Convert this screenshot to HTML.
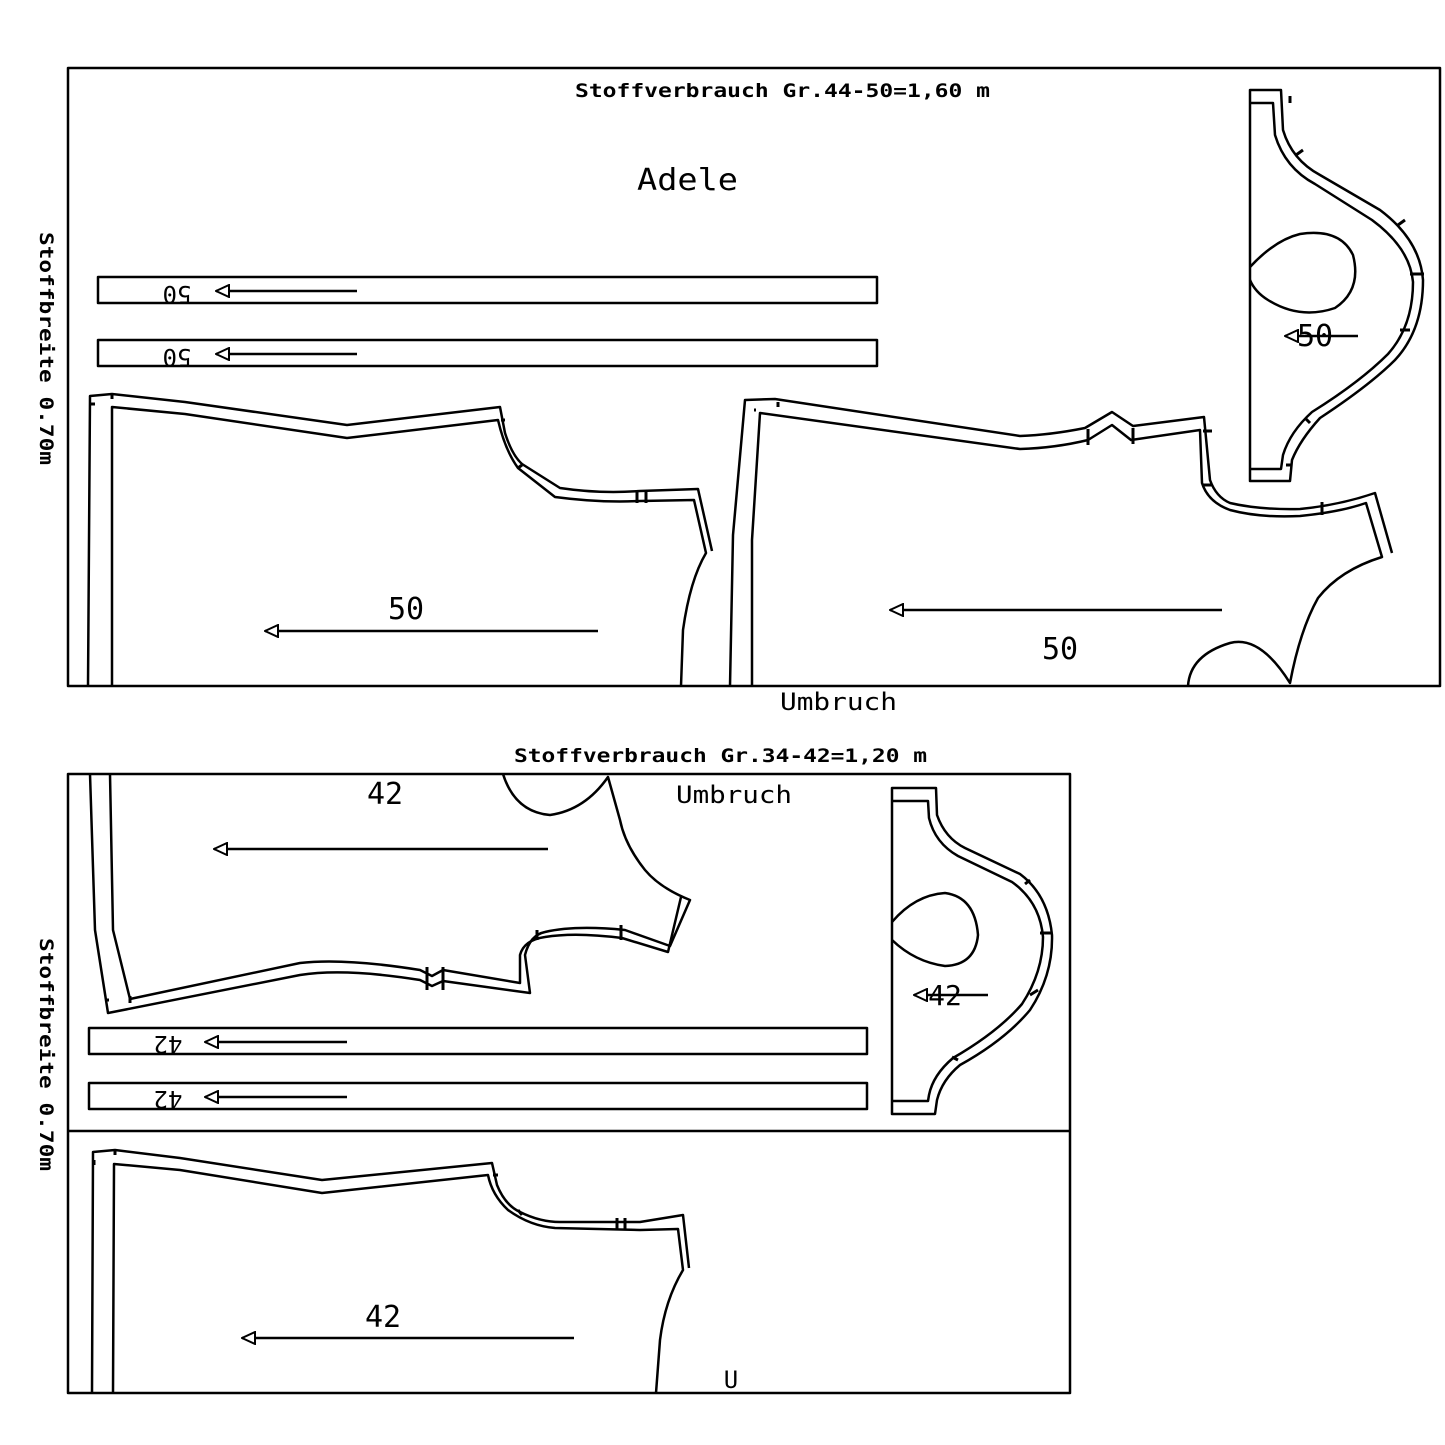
<!DOCTYPE html>
<html><head><meta charset="utf-8"><style>
html,body{margin:0;padding:0;background:#fff}
svg{display:block}
text{font-family:"DejaVu Sans Mono","Liberation Mono",monospace;fill:#000}
</style></head><body>
<svg width="1445" height="1445" viewBox="0 0 1445 1445" xmlns="http://www.w3.org/2000/svg">
<defs>
<marker id="ah" markerWidth="16" markerHeight="14" refX="15" refY="7" orient="auto" markerUnits="userSpaceOnUse">
<path d="M15,7 L2,1 L2,13 Z" fill="#fff" stroke="#000" stroke-width="2"/>
</marker>
</defs>
<g fill="none" stroke="#000" stroke-width="2.5" stroke-linejoin="round">
<rect x="68" y="68" width="1372" height="618"/>
<rect x="68" y="774" width="1002" height="619"/>
<line x1="68" y1="1131" x2="1070" y2="1131"/>

<rect x="98" y="277" width="779" height="26"/>
<rect x="98" y="340" width="779" height="26"/>
<line x1="357" y1="291" x2="216" y2="291" marker-end="url(#ah)"/>
<line x1="357" y1="354" x2="216" y2="354" marker-end="url(#ah)"/>

<path d="M88,686 L90,396 L112,394 L185,402 L347,425 L500,407 L505,433 Q512,455 522,464 L560,488 Q600,494 640,491 L698,489 L712,551"/>
<path d="M112,686 L112,407 L185,414 L347,438 L498,420 Q505,450 518,468 L555,497 Q600,503 640,501 L694,500 L706,553 Q690,580 683,630 L681,686"/>
<line x1="598" y1="631" x2="265" y2="631" marker-end="url(#ah)"/>

<path d="M730,686 L733,535 L745,400 L775,399 L1020,436 Q1050,435 1085,428 L1112,412 L1133,426 L1204,417 L1210,480 Q1216,497 1230,503 Q1260,510 1300,509 Q1340,505 1375,493 L1392,553"/>
<path d="M752,686 L752,540 L760,413 L1020,449 Q1055,448 1088,440 L1112,425 L1131,440 L1200,430 L1202,483 Q1208,502 1230,510 Q1260,518 1300,516 Q1340,512 1366,503 L1382,557 Q1340,570 1318,598 Q1300,630 1290,683 Q1260,635 1230,643 Q1190,655 1188,686"/>
<line x1="1222" y1="610" x2="890" y2="610" marker-end="url(#ah)"/>

<path d="M1250,90 L1281,90 L1283,130 Q1292,160 1320,175 L1380,210 Q1420,240 1423,280 Q1423,330 1395,360 Q1370,385 1320,418 Q1300,440 1292,460 L1290,481 L1250,481 Z"/>
<path d="M1250,103 L1273,103 L1275,135 Q1285,168 1315,184 L1372,220 Q1410,248 1413,282 Q1413,326 1388,354 Q1360,382 1312,412 Q1290,432 1283,455 L1281,469 L1250,469"/>
<path d="M1250,267 Q1275,240 1300,234 Q1340,228 1353,255 Q1362,290 1335,308 Q1300,320 1268,300 Q1255,292 1250,280"/>
<line x1="1358" y1="336" x2="1285" y2="336" marker-end="url(#ah)"/>

<rect x="89" y="1028" width="778" height="26"/>
<rect x="89" y="1083" width="778" height="26"/>
<line x1="347" y1="1042" x2="205" y2="1042" marker-end="url(#ah)"/>
<line x1="347" y1="1097" x2="205" y2="1097" marker-end="url(#ah)"/>

<path d="M90,774 L95,930 L108,1013 L300,975 Q345,968 420,980 L432,986 L443,981 L530,993 L525,955 Q530,935 545,932 Q575,925 625,930 L670,946 L690,900 Q660,888 645,870 Q625,845 620,820 L608,777 Q585,810 550,815 Q515,812 503,774"/>
<path d="M110,774 L113,930 L130,999 L300,963 Q345,958 420,970 L432,976 L443,970 L520,983 L520,955 Q524,940 545,937 Q575,932 622,938 L668,952 L681,897"/>
<line x1="548" y1="849" x2="214" y2="849" marker-end="url(#ah)"/>

<path d="M92,1393 L93,1152 L115,1150 L180,1158 L322,1180 L492,1163 L497,1185 Q505,1205 520,1212 Q540,1222 560,1222 L640,1222 L683,1215 L689,1268"/>
<path d="M113,1393 L114,1164 L180,1170 L322,1193 L488,1175 Q492,1195 508,1210 Q530,1226 555,1228 L640,1230 L678,1229 L683,1270 Q665,1300 660,1340 L656,1393"/>
<line x1="574" y1="1338" x2="242" y2="1338" marker-end="url(#ah)"/>

<path d="M892,788 L936,788 L937,815 Q945,838 965,848 L1020,874 Q1048,895 1052,935 Q1053,975 1030,1010 Q1005,1040 960,1065 Q942,1080 937,1100 L935,1114 L892,1114 Z"/>
<path d="M892,801 L928,801 L929,818 Q935,843 958,856 L1012,882 Q1040,902 1043,937 Q1043,972 1022,1004 Q998,1032 953,1058 Q933,1075 929,1095 L928,1101 L892,1101"/>
<path d="M892,922 Q915,895 945,893 Q975,897 978,935 Q975,965 945,966 Q915,962 892,940"/>
<line x1="988" y1="995" x2="914" y2="995" marker-end="url(#ah)"/>
</g>

<g stroke="#000" stroke-width="3">
<line x1="91" y1="404" x2="95" y2="404"/><line x1="112" y1="394" x2="112" y2="399"/>
<line x1="501" y1="420" x2="505" y2="420"/><line x1="518" y1="468" x2="522" y2="465"/>
<line x1="637" y1="490" x2="637" y2="503"/><line x1="646" y1="490" x2="646" y2="503"/>
<line x1="754" y1="410" x2="756" y2="410"/><line x1="778" y1="402" x2="778" y2="407"/>
<line x1="1088" y1="429" x2="1088" y2="445"/><line x1="1133" y1="428" x2="1133" y2="444"/>
<line x1="1203" y1="431" x2="1212" y2="431"/><line x1="1202" y1="485" x2="1212" y2="485"/>
<line x1="1322" y1="502" x2="1322" y2="515"/>
<line x1="1290" y1="103" x2="1290" y2="96"/><line x1="1296" y1="155" x2="1303" y2="150"/>
<line x1="1398" y1="225" x2="1405" y2="220"/><line x1="1410" y1="274" x2="1424" y2="274"/>
<line x1="1400" y1="330" x2="1410" y2="330"/><line x1="1305" y1="418" x2="1310" y2="423"/>
<line x1="1286" y1="465" x2="1291" y2="465"/>
<line x1="105" y1="1000" x2="109" y2="1000"/><line x1="130" y1="996" x2="130" y2="1003"/>
<line x1="427" y1="967" x2="427" y2="990"/><line x1="443" y1="967" x2="443" y2="990"/>
<line x1="537" y1="930" x2="537" y2="940"/><line x1="621" y1="925" x2="621" y2="940"/>
<line x1="94" y1="1160" x2="94" y2="1165"/><line x1="115" y1="1150" x2="115" y2="1155"/>
<line x1="493" y1="1175" x2="498" y2="1175"/><line x1="518" y1="1210" x2="522" y2="1215"/>
<line x1="617" y1="1218" x2="617" y2="1230"/><line x1="625" y1="1218" x2="625" y2="1230"/>
<line x1="1025" y1="884" x2="1030" y2="880"/><line x1="1040" y1="933" x2="1052" y2="933"/>
<line x1="1030" y1="995" x2="1038" y2="990"/><line x1="952" y1="1057" x2="958" y2="1060"/>
</g>

<text x="575" y="97" font-size="19" font-weight="bold" textLength="415" lengthAdjust="spacingAndGlyphs">Stoffverbrauch Gr.44-50=1,60 m</text>
<text x="637" y="190" font-size="30" textLength="101" lengthAdjust="spacingAndGlyphs">Adele</text>
<text x="780" y="710" font-size="24" textLength="117" lengthAdjust="spacingAndGlyphs">Umbruch</text>
<text x="514" y="762" font-size="19" font-weight="bold" textLength="413" lengthAdjust="spacingAndGlyphs">Stoffverbrauch Gr.34-42=1,20 m</text>
<text x="676" y="803" font-size="24" textLength="116" lengthAdjust="spacingAndGlyphs">Umbruch</text>
<text x="731" y="1388" font-size="24" text-anchor="middle">U</text>
<text x="406" y="619" font-size="30" text-anchor="middle">50</text>
<text x="1060" y="659" font-size="30" text-anchor="middle">50</text>
<text x="1315" y="346" font-size="30" text-anchor="middle">50</text>
<text x="385" y="804" font-size="30" text-anchor="middle">42</text>
<text x="383" y="1327" font-size="30" text-anchor="middle">42</text>
<text x="945" y="1005" font-size="28" text-anchor="middle">42</text>
<text transform="translate(177,286) rotate(180)" font-size="24" text-anchor="middle">50</text>
<text transform="translate(177,349) rotate(180)" font-size="24" text-anchor="middle">50</text>
<text transform="translate(168,1036) rotate(180)" font-size="24" text-anchor="middle">42</text>
<text transform="translate(168,1091) rotate(180)" font-size="24" text-anchor="middle">42</text>
<text transform="translate(40,232) rotate(90)" font-size="19" font-weight="bold" textLength="233" lengthAdjust="spacingAndGlyphs">Stoffbreite 0.70m</text>
<text transform="translate(40,938) rotate(90)" font-size="19" font-weight="bold" textLength="233" lengthAdjust="spacingAndGlyphs">Stoffbreite 0.70m</text>
</svg>
</body></html>
